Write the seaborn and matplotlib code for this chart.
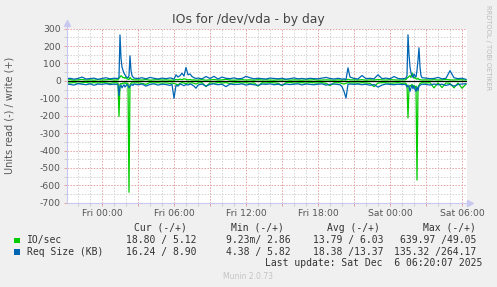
import matplotlib
matplotlib.use("Agg")
import matplotlib.pyplot as plt
import numpy as np
import pandas as pd
import seaborn as sns
from matplotlib.ticker import MultipleLocator, FixedLocator, NullFormatter
from matplotlib.patches import Rectangle

# ---- data (minutes relative to Fri 00:00) ----
minutes = (list(range(-180, 61, 20)) + list(range(80, 161, 5)) + list(range(180, 341, 20))
           + list(range(350, 471, 10)) + list(range(480, 1181, 20)) + list(range(1190, 1241, 10))
           + list(range(1260, 1501, 20)) + list(range(1515, 1601, 5)) + list(range(1620, 1821, 20)))

req_write = [12, 15, 10, 14, 22, 11, 13, 16, 9, 14, 18, 12, 15,
             14, 20, 264, 130, 80, 60, 45, 35, 25, 20, 18, 30, 144, 60, 30, 22, 16,
             14, 18, 12, 20, 15, 11, 16, 13, 17,
             15, 10, 35, 22, 30, 44, 28, 77, 35, 40, 25, 18, 14,
             16, 12, 25, 14, 26, 11, 22, 15, 13, 17, 12, 14, 26, 18, 12, 15, 13, 11,
             16, 14, 12, 15, 10, 13, 17, 12, 14, 11, 15, 13, 12, 16, 20, 14, 11, 15,
             13, 10, 12, 8, 75, 22,
             14, 11, 31, 13, 15, 12, 35, 13, 16, 12, 25, 14, 12,
             14, 18, 30, 265, 150, 80, 45, 30, 20, 40, 28, 22, 60, 120, 190, 80, 30, 18,
             16, 13, 14, 20, 12, 15, 59, 18, 13, 15, 8.9]
req_read = [18, 20, 24, 16, 19, 22, 17, 25, 18, 20, 16, 21, 19,
            20, 85, 30, 25, 40, 30, 22, 35, 28, 20, 25, 40, 30, 24, 20, 26, 18,
            22, 18, 30, 20, 17, 24, 19, 21, 26,
            20, 100, 25, 30, 18, 22, 28, 20, 24, 18, 22, 30, 42,
            24, 18, 30, 20, 17, 22, 19, 33, 18, 21, 20, 17, 24, 19, 22, 26, 18, 20,
            17, 22, 19, 24, 18, 21, 19, 17, 23, 18, 20, 22, 19, 17, 24, 20, 18, 21,
            22, 33, 60, 98, 20, 18,
            20, 18, 22, 19, 25, 21, 36, 24, 18, 20, 22, 19, 21,
            20, 24, 35, 25, 35, 60, 40, 25, 45, 30, 50, 60, 35, 55, 30, 25, 22, 19,
            20, 24, 18, 22, 19, 26, 20, 30, 21, 18, 16.24]
io_write = [5, 7, 4, 6, 8, 5, 6, 4, 7, 5, 6, 8, 5,
            6, 15, 22, 30, 25, 18, 20, 15, 22, 12, 10, 8, 20, 12, 8, 7, 6,
            6, 5, 8, 4, 6, 7, 5, 6, 4,
            5, 4, 8, 6, 10, 7, 12, 9, 6, 8, 5, 6, 4,
            5, 7, 4, 6, 8, 5, 6, 9, 5, 4, 6, 7, 5, 6, 4, 7, 5, 6,
            5, 4, 6, 5, 7, 4, 6, 5, 4, 6, 5, 7, 4, 5, 6, 5, 4, 6,
            5, 4, 6, 5, 9, 6,
            6, 5, 7, 4, 6, 5, 8, 6, 5, 7, 6, 5, 6,
            6, 8, 15, 20, 25, 30, 20, 46, 30, 15, 20, 12, 10, 15, 8, 7, 6, 5,
            6, 5, 7, 5, 6, 8, 6, 5, 7, 6, 5.12]
io_read = [10, 12, 9, 14, 11, 8, 13, 10, 12, 9, 11, 14, 10,
           12, 205, 20, 15, 18, 12, 14, 10, 16, 12, 15, 640, 20, 14, 10, 12, 11,
           11, 14, 20, 9, 12, 10, 13, 11, 15,
           12, 15, 18, 23, 14, 10, 12, 16, 11, 13, 10, 14, 18,
           12, 10, 33, 11, 14, 9, 12, 10, 15, 11, 9, 12, 10, 14, 11, 30, 10, 12,
           9, 11, 13, 27, 10, 9, 12, 11, 10, 13, 9, 11, 12, 10, 14, 27, 11, 10,
           11, 15, 18, 14, 10, 12,
           11, 13, 10, 12, 14, 33, 12, 10, 11, 13, 12, 10, 14,
           12, 15, 25, 213, 40, 25, 30, 20, 35, 25, 40, 30, 570, 40, 25, 15, 12, 10,
           12, 10, 40, 11, 38, 12, 14, 40, 12, 42, 18.8]

tick_minutes = [0, 360, 720, 1080, 1440, 1800]
tick_labels = ["Fri 00:00", "Fri 06:00", "Fri 12:00", "Fri 18:00", "Sat 00:00", "Sat 06:00"]
y_ticks = [300, 200, 100, 0, -100, -200, -300, -400, -500, -600, -700]

legend_names = ["IO/sec", "Req Size (KB)"]
legend_colors = ["#00CC00", "#0066B3"]
legend_cur = ["18.80 / 5.12", "16.24 / 8.90"]
legend_min = ["9.23m/ 2.86", "4.38 / 5.82"]
legend_avg = ["13.79 / 6.03", "18.38 /13.37"]
legend_max = ["639.97 /49.05", "135.32 /264.17"]
headers = ["Cur (-/+)", "Min (-/+)", "Avg (-/+)", "Max (-/+)"]

W, H = 497, 287
BG = "#F0F0F0"
TXT = "#333333"
fig = plt.figure(figsize=(W / 100, H / 100), dpi=100, facecolor=BG)

def fx(px):
    return px / W

def fy(py):
    return 1 - py / H

ax = fig.add_axes([fx(67), fy(202.7), 400 / W, (202.7 - 28.7) / H])
ax.set_facecolor("white")

df = pd.DataFrame({"minutes": minutes,
                   "io_w": io_write, "io_r": [-v for v in io_read],
                   "rq_w": req_write, "rq_r": [-v for v in req_read]})

ax.axhline(0, color="black", lw=0.9, zorder=1.5)
for col, c in [("io_r", "#00CC00"), ("io_w", "#00CC00"), ("rq_r", "#0066B3"), ("rq_w", "#0066B3")]:
    sns.lineplot(data=df, x="minutes", y=col, ax=ax, color=c, lw=0.9,
                 estimator=None, legend=False, zorder=2)

ax.set_xlim(-175, 1825)
ax.set_ylim(-700, 300)
ax.set_xlabel("")
ax.set_ylabel("")

# ticks and grid
ax.xaxis.set_major_locator(MultipleLocator(180))
ax.xaxis.set_minor_locator(MultipleLocator(60))
ax.xaxis.set_major_formatter(NullFormatter())
ax.yaxis.set_major_locator(FixedLocator(y_ticks))
ax.yaxis.set_minor_locator(MultipleLocator(50))
ax.set_yticklabels([str(v) for v in y_ticks])
ax.tick_params(axis="y", which="major", labelsize=6.7, labelcolor="#555555", length=2.5,
               color="#e6a0a0", width=0.7, pad=2)
ax.tick_params(axis="both", which="minor", length=2, color="#cccccc", width=0.7)
ax.tick_params(axis="x", which="major", length=2, color="#e6a0a0", width=0.7)
ax.grid(which="major", color="#e6a0a0", linestyle=(0, (1.5, 1.5)), lw=0.7, zorder=0)
ax.grid(which="minor", color="#d3d3d3", linestyle=(0, (1.5, 1.5)), lw=0.7, zorder=0)
ax.set_axisbelow(True)

for t, lab in zip(tick_minutes, tick_labels):
    ax.text(t, -1.0, lab, transform=ax.get_xaxis_transform(), ha="center", va="center",
            fontsize=6.7, color="#555555", clip_on=False)
# fix label offset (place below axis by pixels)
for txt in ax.texts:
    txt.set_y(-10.5 / 174)

for s in ["top", "right"]:
    ax.spines[s].set_visible(False)
for s in ["left", "bottom"]:
    ax.spines[s].set_color("#c8c8f0")
    ax.spines[s].set_linewidth(0.8)
ax.plot([0, 0], [1.0, 1.03], transform=ax.transAxes, color="#c8c8f0", lw=0.8, clip_on=False)
ax.plot([0], [1.035], marker="^", ms=4, color="#c8c8f0", transform=ax.transAxes, clip_on=False)
ax.plot([1.0, 1.006], [0, 0], transform=ax.transAxes, color="#c8c8f0", lw=0.8, clip_on=False)
ax.plot([1.0085], [0], marker=">", ms=4, color="#c8c8f0", transform=ax.transAxes, clip_on=False)

# texts
fig.text(fx(248.5), fy(20), "IOs for /dev/vda - by day", ha="center", va="center",
         fontsize=8.9, color="#444444")
fig.text(fx(10), fy(115), "Units read (-) / write (+)", rotation=90, ha="center", va="center",
         fontsize=7, color="#555555")
fig.text(fx(488), fy(5), "RRDTOOL / TOBI OETIKER", rotation=270, ha="center", va="top",
         fontsize=4.8, color="#bbbbbb")

mono = "DejaVu Sans Mono"
for hx, h in zip([134, 231, 327, 423], headers):
    fig.text(fx(hx), fy(228), h, ha="left", va="center", fontsize=7, family=mono, color=TXT)
row_y = [240, 251.7]
col_right = [196.7, 290.7, 383.3, 476.7]
for i in range(2):
    fig.patches.append(Rectangle((fx(14), fy(row_y[i] + 3)), 5.5 / W, 5.5 / H,
                                 transform=fig.transFigure, facecolor=legend_colors[i],
                                 edgecolor="none"))
    fig.text(fx(26.7), fy(row_y[i]), legend_names[i], ha="left", va="center", fontsize=7,
             family=mono, color=TXT)
    for cx, vals in zip(col_right, [legend_cur, legend_min, legend_avg, legend_max]):
        fig.text(fx(cx), fy(row_y[i]), vals[i], ha="right", va="center", fontsize=7,
                 family=mono, color=TXT)
fig.text(fx(482.3), fy(263.3), "Last update: Sat Dec  6 06:20:07 2025", ha="right",
         va="center", fontsize=7, family=mono, color=TXT)
fig.text(fx(248), fy(276.3), "Munin 2.0.73", ha="center", va="center", fontsize=5.5,
         color="#c4c4c4")

fig.savefig("out.png", dpi=100, facecolor=BG)
